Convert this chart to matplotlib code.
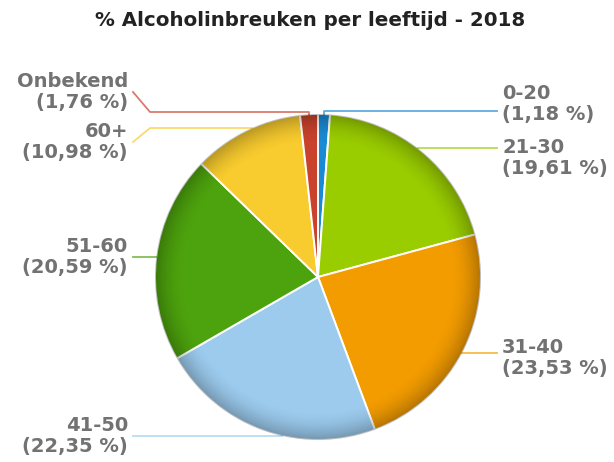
import numpy as np
import matplotlib
matplotlib.use("Agg")
import matplotlib.pyplot as plt
from matplotlib.patches import Circle

# ---- data ----
categories = ["0-20", "21-30", "31-40", "41-50", "51-60", "60+", "Onbekend"]
values = [1.18, 19.61, 23.53, 22.35, 20.59, 10.98, 1.76]
colors = ["#1a8ad4", "#9acd00", "#f39c00", "#9ccbee", "#4da30d", "#f8cb2e", "#c9422b"]
title = "% Alcoholinbreuken per leeftijd - 2018"

# ---- layout (pixel coords, y downward) ----
W, H = 614, 462
cx, cy, R = 318, 277, 163
label_side = ["right", "right", "right", "left", "left", "left", "left"]
label_text_y = [104, 158, 358, 436, 257, 142, 92]
label_line_y = [111, 148, 353, 436, 257, 128, 112]

def Y(y):
    return H - y

fig = plt.figure(figsize=(W / 100, H / 100), dpi=100)
ax = fig.add_axes([0, 0, 1, 1])

wedges, _ = ax.pie(values, colors=colors, startangle=90, counterclock=False,
                   center=(cx, Y(cy)), radius=R,
                   wedgeprops=dict(edgecolor="white", linewidth=1.4))

# radial shading
n = 400
xs = np.linspace(cx - R, cx + R, n)
ys = np.linspace(Y(cy) - R, Y(cy) + R, n)
XX, YY = np.meshgrid(xs, ys)
rr = np.sqrt((XX - cx) ** 2 + (YY - Y(cy)) ** 2) / R
alpha = 0.26 * np.clip((rr - 0.82) / 0.18, 0, 1) ** 1.8
img = np.zeros((n, n, 4))
img[..., 3] = alpha
im = ax.imshow(img, extent=(cx - R, cx + R, Y(cy) - R, Y(cy) + R), origin="lower",
               zorder=3, interpolation="bilinear")
clip = Circle((cx, Y(cy)), R, transform=ax.transData)
im.set_clip_path(clip)

# labels + connectors
total = sum(values)
cum = 0.0
for i, (cat, v) in enumerate(zip(categories, values)):
    mid = (cum + v / 2) / total * 360.0
    cum += v
    side = label_side[i]
    ly = label_line_y[i]
    ty = label_text_y[i]
    dy = ly - cy
    if side == "right":
        tail = [(497, ly)]
        text_x = 502
        sgn = 1
    else:
        tail = [(150, ly), (133, ty)]
        text_x = 128
        sgn = -1
    if abs(dy) < R - 1:
        ax_ = cx + sgn * np.sqrt(R ** 2 - dy ** 2)
        pts = [(ax_, ly)] + tail
    else:
        a = np.deg2rad(mid)
        px = cx + R * np.sin(a)
        py = cy - R * np.cos(a)
        pts = [(px, py + 3), (px, ly)] + tail
    ax.plot([p[0] for p in pts], [Y(p[1]) for p in pts], color=colors[i],
            lw=1.3, alpha=0.7, zorder=2, solid_joinstyle="round")
    txt = f"{cat}\n({v:.2f} %)".replace(".", ",")
    ax.text(text_x, Y(ty), txt, ha="left" if side == "right" else "right",
            va="center", fontsize=14, fontweight="bold", color="#727272",
            family="DejaVu Sans", linespacing=1.1)

ax.text(W / 2 + 3, Y(20), title, ha="center", va="center", fontsize=14.3,
        fontweight="bold", color="#222222", family="DejaVu Sans")

ax.set_xlim(0, W)
ax.set_ylim(0, H)
ax.set_aspect("auto")
ax.axis("off")
fig.savefig("out.png", dpi=100)
